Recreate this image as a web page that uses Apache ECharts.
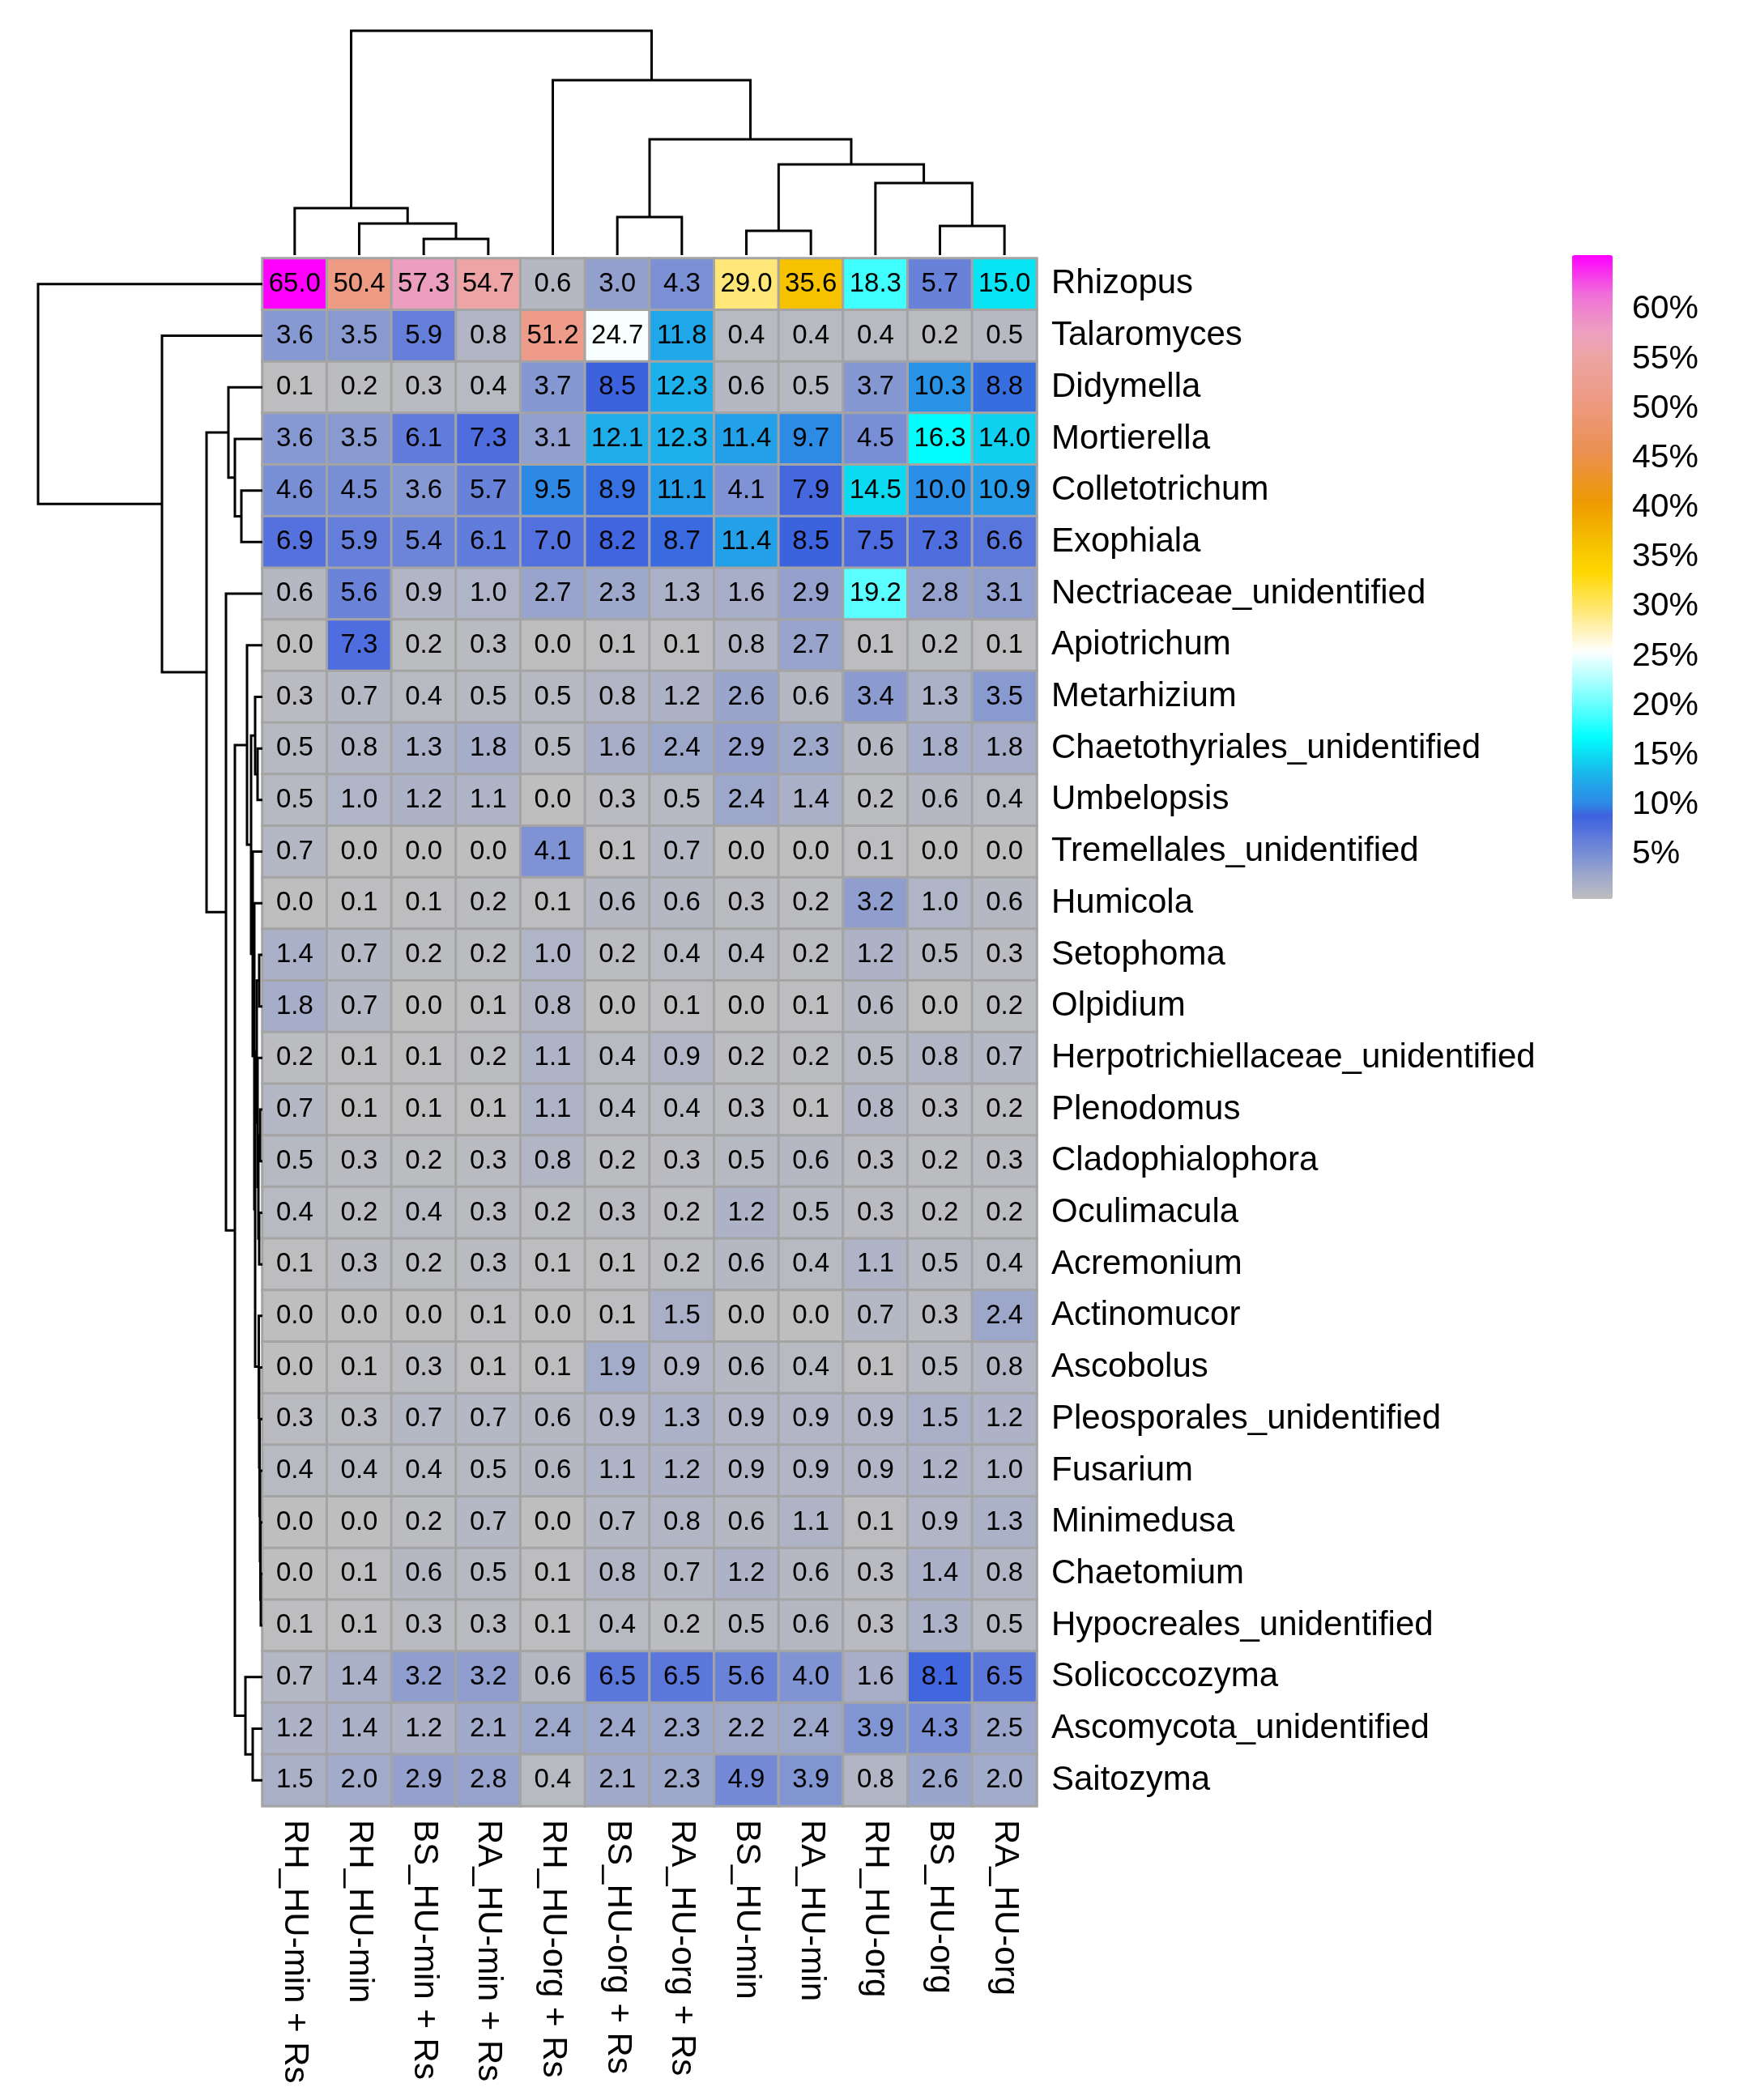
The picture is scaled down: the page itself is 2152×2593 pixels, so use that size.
<!DOCTYPE html>
<html>
<head>
<meta charset="utf-8">
<title>Fungal genera heatmap</title>
<script src="https://cdn.jsdelivr.net/npm/echarts@6/dist/echarts.min.js"></script>
<style>
  html, body { margin: 0; padding: 0; background: #fff; }
  #chart { width: 2152px; height: 2593px; }
</style>
</head>
<body>
<div id="chart"></div>
<script>
const samples = ['RH_HU-min + Rs', 'RH_HU-min', 'BS_HU-min + Rs', 'RA_HU-min + Rs', 'RH_HU-org + Rs', 'BS_HU-org + Rs',
  'RA_HU-org + Rs', 'BS_HU-min', 'RA_HU-min', 'RH_HU-org', 'BS_HU-org', 'RA_HU-org']

const genera = ['Rhizopus', 'Talaromyces', 'Didymella', 'Mortierella', 'Colletotrichum', 'Exophiala',
  'Nectriaceae_unidentified', 'Apiotrichum', 'Metarhizium', 'Chaetothyriales_unidentified', 'Umbelopsis',
  'Tremellales_unidentified', 'Humicola', 'Setophoma', 'Olpidium', 'Herpotrichiellaceae_unidentified',
  'Plenodomus', 'Cladophialophora', 'Oculimacula', 'Acremonium', 'Actinomucor', 'Ascobolus',
  'Pleosporales_unidentified', 'Fusarium', 'Minimedusa', 'Chaetomium', 'Hypocreales_unidentified',
  'Solicoccozyma', 'Ascomycota_unidentified', 'Saitozyma']

// relative abundance (%), one row per genus, columns in the order of samples
const abundance = [
  [65.0, 50.4, 57.3, 54.7, 0.6, 3.0, 4.3, 29.0, 35.6, 18.3, 5.7, 15.0],
  [3.6, 3.5, 5.9, 0.8, 51.2, 24.7, 11.8, 0.4, 0.4, 0.4, 0.2, 0.5],
  [0.1, 0.2, 0.3, 0.4, 3.7, 8.5, 12.3, 0.6, 0.5, 3.7, 10.3, 8.8],
  [3.6, 3.5, 6.1, 7.3, 3.1, 12.1, 12.3, 11.4, 9.7, 4.5, 16.3, 14.0],
  [4.6, 4.5, 3.6, 5.7, 9.5, 8.9, 11.1, 4.1, 7.9, 14.5, 10.0, 10.9],
  [6.9, 5.9, 5.4, 6.1, 7.0, 8.2, 8.7, 11.4, 8.5, 7.5, 7.3, 6.6],
  [0.6, 5.6, 0.9, 1.0, 2.7, 2.3, 1.3, 1.6, 2.9, 19.2, 2.8, 3.1],
  [0.0, 7.3, 0.2, 0.3, 0.0, 0.1, 0.1, 0.8, 2.7, 0.1, 0.2, 0.1],
  [0.3, 0.7, 0.4, 0.5, 0.5, 0.8, 1.2, 2.6, 0.6, 3.4, 1.3, 3.5],
  [0.5, 0.8, 1.3, 1.8, 0.5, 1.6, 2.4, 2.9, 2.3, 0.6, 1.8, 1.8],
  [0.5, 1.0, 1.2, 1.1, 0.0, 0.3, 0.5, 2.4, 1.4, 0.2, 0.6, 0.4],
  [0.7, 0.0, 0.0, 0.0, 4.1, 0.1, 0.7, 0.0, 0.0, 0.1, 0.0, 0.0],
  [0.0, 0.1, 0.1, 0.2, 0.1, 0.6, 0.6, 0.3, 0.2, 3.2, 1.0, 0.6],
  [1.4, 0.7, 0.2, 0.2, 1.0, 0.2, 0.4, 0.4, 0.2, 1.2, 0.5, 0.3],
  [1.8, 0.7, 0.0, 0.1, 0.8, 0.0, 0.1, 0.0, 0.1, 0.6, 0.0, 0.2],
  [0.2, 0.1, 0.1, 0.2, 1.1, 0.4, 0.9, 0.2, 0.2, 0.5, 0.8, 0.7],
  [0.7, 0.1, 0.1, 0.1, 1.1, 0.4, 0.4, 0.3, 0.1, 0.8, 0.3, 0.2],
  [0.5, 0.3, 0.2, 0.3, 0.8, 0.2, 0.3, 0.5, 0.6, 0.3, 0.2, 0.3],
  [0.4, 0.2, 0.4, 0.3, 0.2, 0.3, 0.2, 1.2, 0.5, 0.3, 0.2, 0.2],
  [0.1, 0.3, 0.2, 0.3, 0.1, 0.1, 0.2, 0.6, 0.4, 1.1, 0.5, 0.4],
  [0.0, 0.0, 0.0, 0.1, 0.0, 0.1, 1.5, 0.0, 0.0, 0.7, 0.3, 2.4],
  [0.0, 0.1, 0.3, 0.1, 0.1, 1.9, 0.9, 0.6, 0.4, 0.1, 0.5, 0.8],
  [0.3, 0.3, 0.7, 0.7, 0.6, 0.9, 1.3, 0.9, 0.9, 0.9, 1.5, 1.2],
  [0.4, 0.4, 0.4, 0.5, 0.6, 1.1, 1.2, 0.9, 0.9, 0.9, 1.2, 1.0],
  [0.0, 0.0, 0.2, 0.7, 0.0, 0.7, 0.8, 0.6, 1.1, 0.1, 0.9, 1.3],
  [0.0, 0.1, 0.6, 0.5, 0.1, 0.8, 0.7, 1.2, 0.6, 0.3, 1.4, 0.8],
  [0.1, 0.1, 0.3, 0.3, 0.1, 0.4, 0.2, 0.5, 0.6, 0.3, 1.3, 0.5],
  [0.7, 1.4, 3.2, 3.2, 0.6, 6.5, 6.5, 5.6, 4.0, 1.6, 8.1, 6.5],
  [1.2, 1.4, 1.2, 2.1, 2.4, 2.4, 2.3, 2.2, 2.4, 3.9, 4.3, 2.5],
  [1.5, 2.0, 2.9, 2.8, 0.4, 2.1, 2.3, 4.9, 3.9, 0.8, 2.6, 2.0]
]

// hclust style merges: negative = leaf (1-based display position), positive = earlier merge (1-based)
const colMerge = [[-3, -4], [-2, 1], [-1, 2], [-6, -7], [-8, -9], [-11, -12], [-10, 6], [5, 7], [4, 8], [-5, 9], [3, 10]]
const colHeight = [20, 39, 58, 47, 30, 36, 89, 112, 143, 216, 277]

const rowMerge = [[-5, -6], [-4, 1], [-3, 2], [-10, -11], [-9, 4], [-14, -15], [-17, -18], [-19, -20], [7, 8],
  [-16, 9], [6, 10], [-26, -27], [-25, 12], [-24, 13], [-23, 14], [-22, 15], [-21, 16], [11, 17], [-13, 18],
  [-12, 19], [5, 20], [-8, 21], [-29, -30], [-28, 23], [22, 24], [-7, 25], [3, 26], [-2, 27], [-1, 28]]
const rowHeight = [26, 34, 42, 6, 9, 4, 3, 4, 5, 6, 7, 2, 2.5, 3, 3.5, 4, 4.5, 9, 10, 12, 14, 19, 12, 21, 34, 45, 69, 124, 277]

const legendTicks = [5, 10, 15, 20, 25, 30, 35, 40, 45, 50, 55, 60]

const FONT = 'Liberation Sans, Arial, sans-serif'

// colour ramp of the legend (value in % -> colour)
const rampStops = [
  [0, '#bebebe'], [1, '#afb4c6'], [2.5, '#9ca6ca'], [4, '#8094d4'], [5.5, '#6c84d8'], [7, '#5270de'],
  [8.5, '#3c62de'], [9.5, '#2e88e6'], [11.5, '#22a2e8'], [13, '#18bcec'], [14.5, '#0cdaf0'], [16.3, '#00ffff'],
  [19, '#55ffff'], [25, '#ffffff'], [29, '#ffe878'], [33, '#ffd700'], [36, '#f5c000'], [40, '#ee9a00'],
  [45, '#ea9050'], [50, '#ee9a80'], [54.7, '#eca4a4'], [57.3, '#eca0c0'], [61, '#f070d8'], [65, '#ff00ff']
]

function hexToRgb(h) {
  return [1, 3, 5].map(i => parseInt(h.slice(i, i + 2), 16))
}

function rampColors(min, max, step) {
  const out = []
  for (let v = min; v <= max + 1e-9; v += step) {
    let k = 0
    while (k < rampStops.length - 2 && rampStops[k + 1][0] < v) k++
    const [v0, c0] = rampStops[k]
    const [v1, c1] = rampStops[k + 1]
    const t = Math.min(1, Math.max(0, (v - v0) / (v1 - v0)))
    const a = hexToRgb(c0), b = hexToRgb(c1)
    out.push('rgb(' + a.map((x, i) => Math.round(x + (b[i] - x) * t)).join(',') + ')')
  }
  return out
}

function dendroSegments(merge, height) {
  const pos = []
  const node = id => id < 0 ? [-id - 1, 0] : [pos[id - 1], height[id - 1]]
  return merge.map(([a, b], i) => {
    const [pa, ha] = node(a)
    const [pb, hb] = node(b)
    pos.push((pa + pb) / 2)
    return [pa, ha, pb, hb, height[i]]
  })
}

function dendroItem(sideways) {
  return (params, api) => {
    const v = i => api.value(i)
    const pt = (p, h) => sideways ? api.coord([h, p]) : api.coord([p, h])
    return {
      type: 'polyline',
      shape: { points: [pt(v(0), v(1)), pt(v(0), v(4)), pt(v(2), v(4)), pt(v(2), v(3))] },
      style: { fill: null, stroke: '#000', lineWidth: 3 }
    }
  }
}

const heatData = []
abundance.forEach((row, r) => row.forEach((val, c) => heatData.push([c, r, val])))

const hidden = { show: false }

const chart = echarts.init(document.getElementById('chart'))

const option = {
  animation: false,
  backgroundColor: '#fff',
  textStyle: { fontFamily: FONT },
  grid: [
    { left: 324, top: 319, width: 956, height: 1911 },
    { left: 324, top: 38, width: 956, height: 277 },
    { left: 47, top: 319, width: 277, height: 1911 },
    { left: 1943, top: 321, width: 50, height: 795 }
  ],
  xAxis: [
    {
      type: 'category', gridIndex: 0, data: samples, position: 'bottom',
      axisLine: hidden, axisTick: hidden, splitLine: hidden,
      axisLabel: { rotate: -90, margin: 17, fontSize: 42, color: '#000', fontFamily: FONT, interval: 0 }
    },
    { type: 'value', gridIndex: 1, min: -0.5, max: 11.5, show: false },
    { type: 'value', gridIndex: 2, min: 0, max: 277, inverse: true, show: false },
    { type: 'value', gridIndex: 3, min: 0, max: 1, show: false }
  ],
  yAxis: [
    {
      type: 'category', gridIndex: 0, data: genera, inverse: true, position: 'right',
      axisLine: hidden, axisTick: hidden, splitLine: hidden,
      axisLabel: { margin: 18, fontSize: 42, color: '#000', fontFamily: FONT, interval: 0 }
    },
    { type: 'value', gridIndex: 1, min: 0, max: 277, show: false },
    { type: 'value', gridIndex: 2, min: -0.5, max: 29.5, inverse: true, show: false },
    {
      type: 'value', gridIndex: 3, min: 0, max: 65, interval: 5, position: 'right',
      axisLine: hidden, axisTick: hidden, splitLine: hidden,
      axisLabel: {
        margin: 22, fontSize: 41, color: '#000', fontFamily: FONT,
        formatter: v => legendTicks.includes(v) ? v + '%' : ''
      }
    }
  ],
  visualMap: {
    type: 'continuous',
    seriesIndex: 0,
    dimension: 2,
    min: 0,
    max: 65,
    calculable: false,
    orient: 'vertical',
    left: 1926,
    top: 300,
    itemWidth: 50,
    itemHeight: 795,
    text: null,
    inRange: { color: rampColors(0, 65, 0.5) }
  },
  series: [
    {
      type: 'heatmap',
      xAxisIndex: 0,
      yAxisIndex: 0,
      data: heatData,
      itemStyle: { borderColor: '#a4a4a4', borderWidth: 3 },
      label: {
        show: true, color: '#000', fontSize: 33, fontFamily: FONT,
        formatter: p => p.value[2].toFixed(1)
      },
      emphasis: { disabled: true }
    },
    {
      type: 'custom',
      xAxisIndex: 1,
      yAxisIndex: 1,
      data: dendroSegments(colMerge, colHeight),
      encode: { x: [0, 2], y: [1, 3, 4] },
      renderItem: dendroItem(false),
      silent: true
    },
    {
      type: 'custom',
      xAxisIndex: 2,
      yAxisIndex: 2,
      data: dendroSegments(rowMerge, rowHeight),
      encode: { x: [1, 3, 4], y: [0, 2] },
      renderItem: dendroItem(true),
      silent: true
    }
  ]
}

chart.setOption(option)
</script>
</body>
</html>
